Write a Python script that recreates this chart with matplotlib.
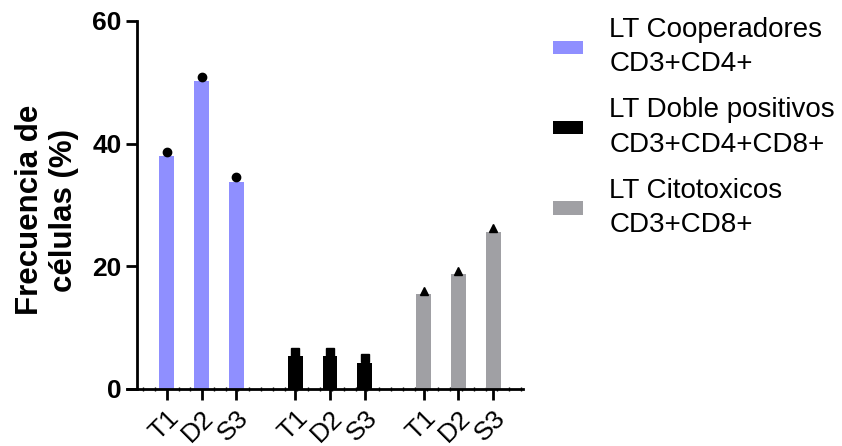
import numpy as np
import matplotlib
matplotlib.use('Agg')
import matplotlib.pyplot as plt
import matplotlib.transforms as mtransforms
from matplotlib.patches import Patch
from matplotlib.ticker import MultipleLocator

plt.rcParams['font.family'] = ['Liberation Sans', 'DejaVu Sans']

# data
muestras = ['T1', 'D2', 'S3']
grupos = ['LT Cooperadores\nCD3+CD4+', 'LT Doble positivos\nCD3+CD4+CD8+', 'LT Citotoxicos\nCD3+CD8+']
cooperadores = [38.0, 50.2, 33.8]
cooperadores_pt = [38.7, 50.9, 34.6]
doble_pos = [5.3, 5.3, 4.2]
doble_pos_pt = [6.0, 6.0, 5.0]
citotoxicos = [15.5, 18.8, 25.6]
citotoxicos_pt = [16.0, 19.3, 26.2]

colores = ['#8f8fff', '#000000', '#a0a0a4']
marcadores = ['o', 's', '^']

fig = plt.figure(figsize=(8.42, 4.46), dpi=100)
ax = fig.add_axes([137/842, 1-389/446, (523-137)/842, (389-21)/446])

base = np.arange(3)
offsets = [0, 3.7, 7.4]
barras = [cooperadores, doble_pos, citotoxicos]
puntos = [cooperadores_pt, doble_pos_pt, citotoxicos_pt]
pos_all = []
for i in range(3):
    x = base + offsets[i]
    pos_all.extend(x)
    ax.bar(x, barras[i], width=0.43, color=colores[i], zorder=2)
    ax.plot(x, puntos[i], linestyle='none', marker=marcadores[i],
            color='black', markersize=6, zorder=3)

ax.set_xlim(-0.86, 10.26)
ax.set_ylim(0, 60)
ax.set_yticks([0, 20, 40, 60])
ax.set_xticks(pos_all)
ax.set_xticklabels(muestras * 3, rotation=45, ha='right', va='top',
                   rotation_mode='anchor', fontsize=19)
# shift rotated labels a bit to the right like the original
shift = mtransforms.ScaledTranslation(10/100, 0, fig.dpi_scale_trans)
for lab in ax.get_xticklabels():
    lab.set_transform(lab.get_transform() + shift)
ax.xaxis.set_minor_locator(MultipleLocator(0.34))
ax.tick_params(axis='x', which='minor', length=3, width=1, direction='inout')

for lab in ax.get_yticklabels():
    lab.set_fontweight('bold')
    lab.set_fontsize(19)
ax.tick_params(axis='both', which='major', length=8, width=2, pad=3)
ax.tick_params(axis='x', which='major', pad=4)

for s in ['top', 'right']:
    ax.spines[s].set_visible(False)
for s in ['left', 'bottom']:
    ax.spines[s].set_linewidth(2)
ax.spines['bottom'].set_bounds(-1.16, 10.26)
ax.spines['bottom'].set_zorder(4)

ax.set_ylabel('Frecuencia de\ncélulas (%)', fontsize=22.5, fontweight='bold')
ax.yaxis.set_label_coords(-0.15, 0.486)

handles = [Patch(facecolor=c, edgecolor='none') for c in colores]
leg = ax.legend(handles, grupos, loc='upper left', bbox_to_anchor=(553/842, 1-17/446),
                bbox_transform=fig.transFigure, frameon=False, fontsize=20,
                handlelength=1.08, handleheight=0.36, handletextpad=0.95,
                labelspacing=0.72, borderpad=0, borderaxespad=0)
for t in leg.get_texts():
    t.set_linespacing(1.42)

fig.savefig('out.png', dpi=100)
